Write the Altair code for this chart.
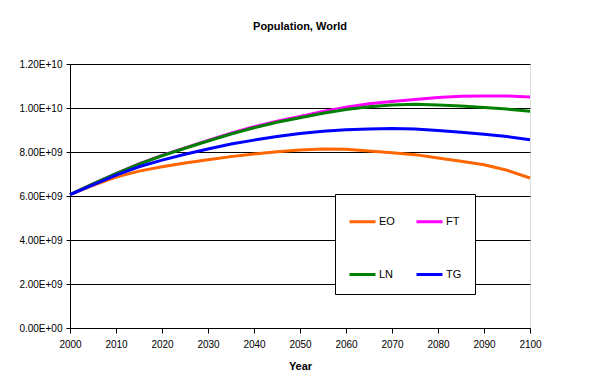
import altair as alt
import pandas as pd

years = list(range(2000, 2101, 5))
series_names = ["EO", "FT", "LN", "TG"]
series_colors = ["#FF6600", "#FF00FF", "#008000", "#0000FF"]

eo = [6.06, 6.48, 6.86, 7.13, 7.33, 7.50, 7.65, 7.79, 7.91, 8.01, 8.09,
      8.14, 8.13, 8.05, 7.97, 7.88, 7.73, 7.58, 7.42, 7.17, 6.82]
ft = [6.06, 6.55, 7.02, 7.46, 7.85, 8.19, 8.53, 8.86, 9.15, 9.40, 9.62,
      9.84, 10.03, 10.19, 10.30, 10.39, 10.48, 10.53, 10.55, 10.55, 10.50]
ln = [6.06, 6.55, 7.02, 7.45, 7.83, 8.17, 8.50, 8.82, 9.10, 9.35, 9.56,
      9.76, 9.93, 10.06, 10.14, 10.17, 10.14, 10.09, 10.02, 9.95, 9.85]
tg = [6.06, 6.51, 6.95, 7.33, 7.63, 7.90, 8.14, 8.36, 8.54, 8.70, 8.84,
      8.94, 9.01, 9.05, 9.07, 9.04, 8.98, 8.90, 8.81, 8.70, 8.56]

y_ticks = [0, 2e9, 4e9, 6e9, 8e9, 1e10, 1.2e10]
x_ticks = list(range(2000, 2101, 10))

rows = []
for name, vals in zip(series_names, [eo, ft, ln, tg]):
    for yr, v in zip(years, vals):
        rows.append({"Year": yr, "Population": v * 1e9, "Series": name})
df = pd.DataFrame(rows)

FONT = "Liberation Sans"

label_expr = ("datum.value == 0 ? '0.00E+00' : "
              "replace(upper(format(datum.value, '.2e')), 'E+9', 'E+09')")

chart = alt.Chart(df).mark_line(strokeWidth=3).encode(
    x=alt.X("Year:Q",
            scale=alt.Scale(domain=[2000, 2100], nice=False),
            axis=alt.Axis(values=x_ticks, format="d", title="Year", grid=False,
                          tickSize=5, labelPadding=6, titlePadding=11,
                          labelFlush=False, domainColor="black",
                          tickColor="black")),
    y=alt.Y("Population:Q",
            scale=alt.Scale(domain=[0, 1.2e10], nice=False),
            axis=alt.Axis(values=y_ticks, labelExpr=label_expr, title=None,
                          grid=True, gridColor="#000000", gridOpacity=1,
                          gridWidth=1, tickSize=4, labelPadding=4,
                          domainColor="black", tickColor="black")),
    color=alt.Color("Series:N",
                    scale=alt.Scale(domain=series_names, range=series_colors),
                    legend=alt.Legend(orient="none", legendX=265, legendY=130,
                                      columns=2, direction="horizontal",
                                      title=None, symbolType="stroke",
                                      symbolSize=676, symbolStrokeWidth=3,
                                      labelFontSize=11, labelFont=FONT,
                                      labelColor="black", labelOffset=2,
                                      padding=13, rowPadding=32,
                                      columnPadding=15, strokeColor="black",
                                      fillColor="white")),
    order=alt.Order("Year:Q"),
).properties(
    width=460,
    height=264,
    autosize=alt.AutoSizeParams(type="none"),
    padding={"left": 62, "top": 56, "right": 57, "bottom": 60},
    title=alt.TitleParams("Population, World", font=FONT, fontSize=11,
                          fontWeight="bold", color="black", offset=27,
                          anchor="middle"),
).configure_view(
    stroke="#808080", strokeWidth=1
).configure_axis(
    labelFont=FONT, labelFontSize=10, labelColor="black",
    titleFont=FONT, titleFontSize=11, titleFontWeight="bold", titleColor="black",
    domainColor="black", tickColor="black", gridColor="black",
    gridOpacity=1, gridWidth=1, domainWidth=1, tickWidth=1,
).configure(background="white")

chart.save("out.html", embed_options={"renderer": "svg", "actions": False})
